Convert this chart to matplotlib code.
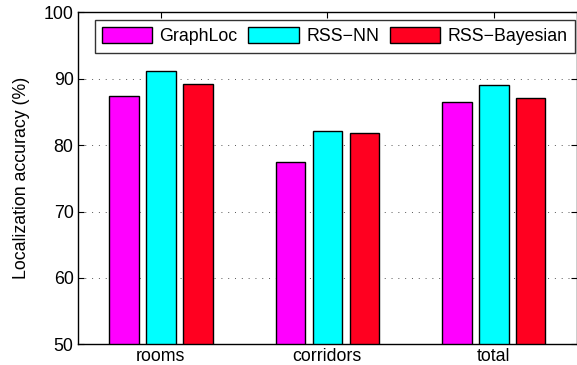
import numpy as np
import matplotlib
matplotlib.use("Agg")
import matplotlib.pyplot as plt

plt.rcParams['font.family'] = ['Liberation Sans', 'DejaVu Sans']

categories = ['rooms', 'corridors', 'total']
methods = ['GraphLoc', 'RSS\u2212NN', 'RSS\u2212Bayesian']
graphloc = [87.4, 77.5, 86.5]
rss_nn = [91.1, 82.1, 89.0]
rss_bayes = [89.2, 81.8, 87.1]
colors = ['#ff00ff', '#00ffff', '#ff0020']

fig = plt.figure(figsize=(5.77, 3.65), dpi=100)
ax = fig.add_axes([0.1347, 0.0567, 0.8653, 0.9096])

x = np.arange(1, len(categories) + 1)
pitch = 0.222
width = 0.177
for i, (vals, lab, col) in enumerate(zip([graphloc, rss_nn, rss_bayes], methods, colors)):
    ax.bar(x + (i - 1) * pitch, np.array(vals) - 50, width, bottom=50,
           color=col, edgecolor='black', linewidth=1.0, label=lab, zorder=3)

ax.set_xlim(0.5, 3.5)
ax.set_ylim(50, 100)
ax.set_xticks(x)
ax.set_xticklabels(categories)
ax.set_yticks([50, 60, 70, 80, 90, 100])
ax.set_ylabel('Localization accuracy (%)', fontsize=12.8)
ax.yaxis.set_label_coords(-0.095, 0.5)
ax.tick_params(direction='in', top=True, right=True, labelsize=12.8, length=4, pad=3)
ax.yaxis.grid(True, linestyle=(0, (1, 6)), color='#555555', linewidth=0.7, zorder=0)
for s in ax.spines.values():
    s.set_linewidth(1.0)

leg = ax.legend(ncol=3, loc='upper left', bbox_to_anchor=(0.034, 0.976),
                fontsize=12.8, frameon=True, fancybox=False, edgecolor='black',
                handlelength=2.85, handleheight=1.0, handletextpad=0.4,
                columnspacing=0.6, borderpad=0.4, borderaxespad=0)
leg.get_frame().set_linewidth(1.0)
leg.set_zorder(5)

fig.savefig('out.png', dpi=100)
